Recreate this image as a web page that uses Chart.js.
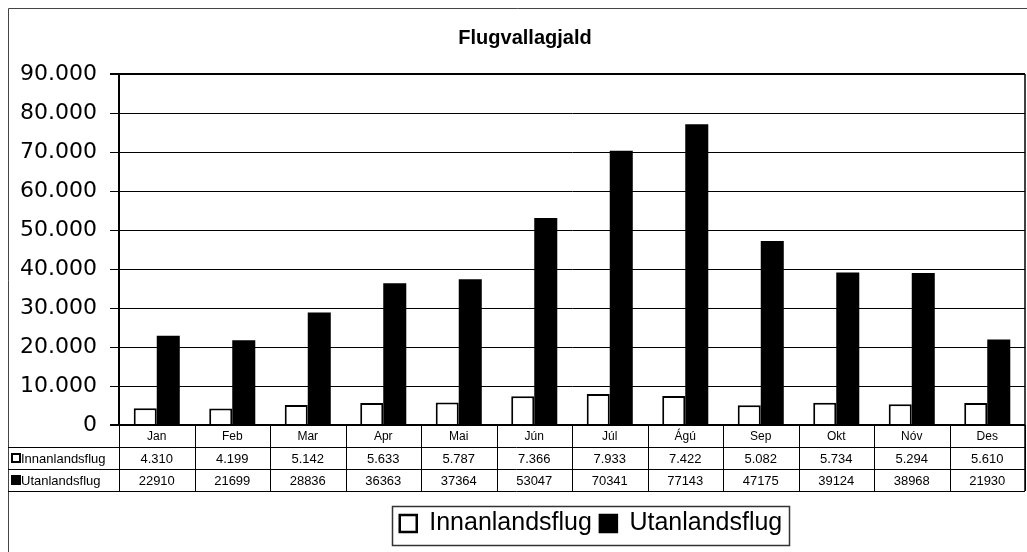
<!DOCTYPE html>
<html>
<head>
<meta charset="utf-8">
<script src="https://cdn.jsdelivr.net/npm/chart.js@4.4.0/dist/chart.umd.min.js"></script>
<style>
  html, body { margin: 0; padding: 0; background: #fff; }
  canvas { display: block; }
</style>
</head>
<body>
<canvas id="chart" width="1027" height="552"></canvas>
<script>
// data
const months = ['Jan', 'Feb', 'Mar', 'Apr', 'Mai', 'Jún', 'Júl', 'Ágú', 'Sep', 'Okt', 'Nóv', 'Des'];
const innanlands = [4310, 4199, 5142, 5633, 5787, 7366, 7933, 7422, 5082, 5734, 5294, 5610];
const utanlands = [22910, 21699, 28836, 36363, 37364, 53047, 70341, 77143, 47175, 39124, 38968, 21930];
const seriesNames = ['Innanlandsflug', 'Utanlandsflug'];
const chartTitle = 'Flugvallagjald';

// 12345 -> "12.345"
function dotted(v) {
  return String(v).replace(/\B(?=(\d{3})+(?!\d))/g, '.');
}

// outer frame + white bg
const framePlugin = {
  id: 'frame',
  beforeDraw(chart) {
    const ctx = chart.ctx;
    ctx.save();
    ctx.fillStyle = '#fff';
    ctx.fillRect(0, 0, chart.width, chart.height);
    ctx.strokeStyle = '#444';
    ctx.lineWidth = 1;
    ctx.beginPath();
    ctx.moveTo(8.5, chart.height);
    ctx.lineTo(8.5, 8.5);
    ctx.lineTo(chart.width, 8.5);
    ctx.stroke();
    ctx.restore();
  }
};

// data table under the plot (values come from the arrays above)
const tablePlugin = {
  id: 'dataTable',
  afterDraw(chart) {
    const ctx = chart.ctx;
    const area = chart.chartArea;
    const xs = chart.scales.x;
    const rowH = 22;
    const top = area.bottom;
    const left = 8;
    ctx.save();

    // plot right border
    ctx.strokeStyle = '#000';
    ctx.lineWidth = 1.5;
    ctx.beginPath();
    ctx.moveTo(area.right, area.top);
    ctx.lineTo(area.right, area.bottom + rowH * 3);
    ctx.stroke();

    // column bounds
    const bounds = [area.left];
    for (let i = 0; i < months.length - 1; i++) {
      bounds.push((xs.getPixelForValue(i) + xs.getPixelForValue(i + 1)) / 2);
    }
    bounds.push(area.right);

    ctx.lineWidth = 1;
    ctx.beginPath();
    bounds.forEach(b => {
      ctx.moveTo(Math.round(b) + 0.5, top);
      ctx.lineTo(Math.round(b) + 0.5, top + rowH * 3);
    });
    for (let r = 1; r <= 3; r++) {
      const y = Math.round(top + rowH * r) + 0.5;
      ctx.moveTo(left, y);
      ctx.lineTo(area.right, y);
    }
    ctx.stroke();

    ctx.fillStyle = '#000';
    ctx.textAlign = 'center';
    ctx.textBaseline = 'middle';
    ctx.font = '12px "Liberation Sans", Arial, sans-serif';
    months.forEach((m, i) => {
      ctx.fillText(m, xs.getPixelForValue(i), top + rowH * 0.5 + 1);
    });

    ctx.font = '13px "Liberation Sans", Arial, sans-serif';
    const rows = [innanlands.map(dotted), utanlands.map(String)];
    rows.forEach((vals, r) => {
      const cy = top + rowH * (r + 1.5) + 1;
      vals.forEach((v, i) => ctx.fillText(v, xs.getPixelForValue(i), cy));
    });

    // row labels with little legend keys
    ctx.textAlign = 'left';
    chart.data.datasets.forEach((ds, r) => {
      const cy = top + rowH * (r + 1.5);
      ctx.fillStyle = ds.backgroundColor;
      ctx.fillRect(12, cy - 4, 8, 8);
      ctx.strokeStyle = '#000';
      ctx.lineWidth = 2;
      ctx.strokeRect(12, cy - 4, 8, 8);
      ctx.fillStyle = '#000';
      ctx.fillText(ds.label, 21, cy + 1);
    });
    ctx.restore();
  }
};

// nudge title + legend sideways and box the legend
const shiftPlugin = {
  id: 'shift',
  afterLayout(chart) {
    const lg = chart.legend;
    const d = 591 - (lg.left + lg.right) / 2;
    lg.left += d;
    lg.right += d;
    const tb = chart.titleBlock;
    const dt = 525 - (tb.left + tb.right) / 2;
    tb.left += dt;
    tb.right += dt;
  },
  afterDraw(chart) {
    const lg = chart.legend;
    const pad = lg.options.labels.padding;
    const w = lg.lineWidths[0];
    const x0 = (lg.left + pad + lg.right - w) / 2;
    const ctx = chart.ctx;
    ctx.save();
    ctx.strokeStyle = '#333';
    ctx.lineWidth = 1.5;
    ctx.strokeRect(Math.round(x0) - 7.5, Math.round(lg.top) + 3.5, Math.round(w) + 6, Math.round(lg.height) - 4);
    ctx.restore();
  }
};

new Chart(document.getElementById('chart'), {
  type: 'bar',
  data: {
    labels: months,
    datasets: [
      {
        label: seriesNames[0],
        data: innanlands,
        backgroundColor: '#fff',
        borderColor: '#000',
        borderWidth: 2,
        borderSkipped: 'bottom'
      },
      {
        label: seriesNames[1],
        data: utanlands,
        backgroundColor: '#000',
        borderColor: '#000',
        borderWidth: 0
      }
    ]
  },
  options: {
    responsive: false,
    animation: false,
    categoryPercentage: 0.61,
    barPercentage: 1.0,
    layout: { padding: { left: 8, right: 2, top: 0, bottom: 6 } },
    plugins: {
      tooltip: { enabled: false },
      title: {
        display: true,
        text: chartTitle,
        color: '#000',
        font: { family: '"Liberation Sans", Arial, sans-serif', size: 20, weight: 'bold' },
        padding: { top: 26, bottom: 24 }
      },
      legend: {
        position: 'bottom',
        labels: {
          color: '#000',
          font: { family: '"Liberation Sans", Arial, sans-serif', size: 25 },
          boxWidth: 17,
          boxHeight: 17,
          padding: 8,
          generateLabels(chart) {
            return chart.data.datasets.map((ds, i) => ({
              text: ds.label,
              fillStyle: ds.backgroundColor,
              strokeStyle: '#000',
              lineWidth: 2.5,
              fontColor: '#000',
              datasetIndex: i
            }));
          }
        }
      }
    },
    scales: {
      x: {
        grid: { display: false },
        border: { display: false },
        ticks: { display: false },
        afterFit(s) { s.height = 78; }
      },
      y: {
        min: 0,
        max: 90000,
        ticks: {
          stepSize: 10000,
          color: '#000',
          padding: 13,
          font: { family: '"DejaVu Sans", sans-serif', size: 22 },
          callback: v => dotted(v)
        },
        grid: {
          color: '#000',
          lineWidth: c => (c.tick && (c.tick.value === 0 || c.tick.value === 90000)) ? 2 : 1,
          tickLength: 9
        },
        border: { color: '#000', width: 2 },
        afterFit(s) { s.width = 111; }
      }
    }
  },
  plugins: [framePlugin, tablePlugin, shiftPlugin]
});
</script>
</body>
</html>
